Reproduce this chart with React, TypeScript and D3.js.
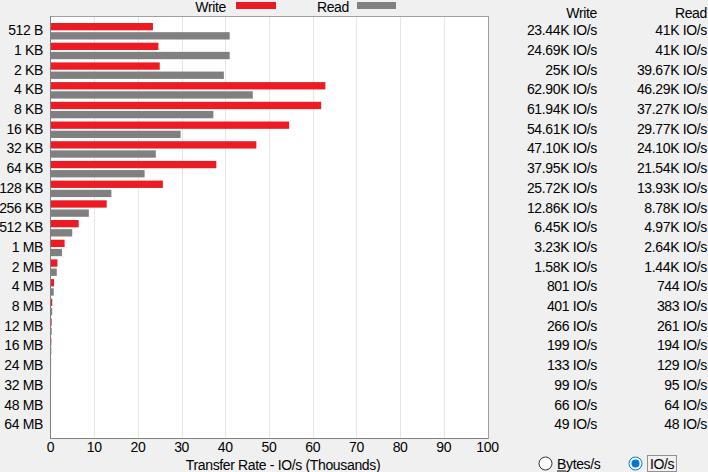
import React from "react";
import * as d3 from "d3";

const categories = ["512 B","1 KB","2 KB","4 KB","8 KB","16 KB","32 KB","64 KB","128 KB","256 KB","512 KB","1 MB","2 MB","4 MB","8 MB","12 MB","16 MB","24 MB","32 MB","48 MB","64 MB"];
const writeValues = [23.44,24.69,25,62.90,61.94,54.61,47.10,37.95,25.72,12.86,6.45,3.23,1.58,0.801,0.401,0.266,0.199,0.133,0.099,0.066,0.049];
const readValues = [41,41,39.67,46.29,37.27,29.77,24.10,21.54,13.93,8.78,4.97,2.64,1.44,0.744,0.383,0.261,0.194,0.129,0.095,0.064,0.048];
const writeLabels = ["23.44K IO/s","24.69K IO/s","25K IO/s","62.90K IO/s","61.94K IO/s","54.61K IO/s","47.10K IO/s","37.95K IO/s","25.72K IO/s","12.86K IO/s","6.45K IO/s","3.23K IO/s","1.58K IO/s","801 IO/s","401 IO/s","266 IO/s","199 IO/s","133 IO/s","99 IO/s","66 IO/s","49 IO/s"];
const readLabels = ["41K IO/s","41K IO/s","39.67K IO/s","46.29K IO/s","37.27K IO/s","29.77K IO/s","24.10K IO/s","21.54K IO/s","13.93K IO/s","8.78K IO/s","4.97K IO/s","2.64K IO/s","1.44K IO/s","744 IO/s","383 IO/s","261 IO/s","194 IO/s","129 IO/s","95 IO/s","64 IO/s","48 IO/s"];
const xTicks = [0,10,20,30,40,50,60,70,80,90,100];
const series = ["Write","Read"];

const RED = "#ed1c24";
const GRAY = "#808080";
const FONT = "'Liberation Sans', Arial, sans-serif";

export default function App() {
  const W = 708, H = 472;
  const plotL = 50, plotR = 488, plotT = 16, plotB = 438;
  const x = d3.scaleLinear().domain([0, 100]).range([50.5, 487.5]);
  const y = d3.scaleBand<string>().domain(categories).range([21, 21 + 19.7 * categories.length]).padding(0);
  const inner = d3.scaleBand<string>().domain(series).range([2, 18.5]).paddingInner(0.2);
  const colors = [RED, GRAY];
  const vals = [writeValues, readValues];
  const ts = { fontSize: 14, letterSpacing: "-0.35px" } as const;

  return (
    <svg width={W} height={H} style={{ position: "absolute", left: 0, top: 0, background: "#f0f0f0", fontFamily: FONT }}>
      <rect x={0} y={0} width={W} height={H} fill="#f0f0f0" />
      {/* legend */}
      <text x={226} y={12} textAnchor="end" {...ts} fill="#000">Write</text>
      <rect x={236} y={2} width={40} height={7} fill={RED} />
      <text x={349} y={12} textAnchor="end" {...ts} fill="#000">Read</text>
      <rect x={357} y={2} width={39} height={7} fill={GRAY} />
      {/* plot */}
      <rect x={plotL} y={plotT} width={plotR - plotL} height={plotB - plotT} fill="#fff" stroke="#a0a0a0" strokeWidth={1} shapeRendering="crispEdges" />
      {xTicks.slice(1, -1).map((t) => (
        <line key={t} x1={Math.round(x(t)) + 0.5} x2={Math.round(x(t)) + 0.5} y1={plotT + 1} y2={plotB} stroke="#e6e6e6" strokeWidth={1} />
      ))}
      {categories.map((c, i) => (
        <g key={c}>
          {vals.map((v, s) => (
            <rect key={s} x={x(0)} y={(y(c) as number) + (inner(series[s]) as number)} width={Math.max(0, x(v[i]) - x(0))} height={inner.bandwidth()} fill={colors[s]} />
          ))}
          <text x={43} y={(y(c) as number) + y.bandwidth() / 2 - 0.5} dy="0.35em" textAnchor="end" {...ts} fill="#000">{c}</text>
          <text x={597} y={(y(c) as number) + y.bandwidth() / 2 - 0.5} dy="0.35em" textAnchor="end" {...ts} fill="#000">{writeLabels[i]}</text>
          <text x={707} y={(y(c) as number) + y.bandwidth() / 2 - 0.5} dy="0.35em" textAnchor="end" {...ts} fill="#000">{readLabels[i]}</text>
        </g>
      ))}
      <line x1={plotL + 0.5} x2={plotL + 0.5} y1={plotT} y2={plotB} stroke="#808080" />
      <line x1={plotL} x2={plotR} y1={plotB + 0.5} y2={plotB + 0.5} stroke="#808080" />
      {xTicks.map((t) => (
        <text key={t} x={x(t)} y={452} textAnchor="middle" {...ts} fill="#000">{t}</text>
      ))}
      <text x={(plotL + plotR) / 2 + 14} y={470} textAnchor="middle" {...ts} fill="#000">Transfer Rate - IO/s (Thousands)</text>
      {/* table headers */}
      <text x={597} y={18} textAnchor="end" {...ts} fill="#000">Write</text>
      <text x={707} y={18} textAnchor="end" {...ts} fill="#000">Read</text>
      {/* radio buttons */}
      <circle cx={545.5} cy={463.5} r={6.5} fill="#fff" stroke="#333" strokeWidth={1} />
      <text x={557} y={469} {...ts} fill="#000">Bytes/s</text>
      <line x1={557} x2={566} y1={471} y2={471} stroke="#000" strokeWidth={1} />
      <circle cx={635.5} cy={463.5} r={6.5} fill="#fff" stroke="#0078d7" strokeWidth={1} />
      <circle cx={635.5} cy={463.5} r={4} fill="#0078d7" />
      <rect x={647.5} y={455.5} width={29} height={16} fill="none" stroke="#333" strokeDasharray="1,1" />
      <text x={650} y={469} {...ts} fill="#000">IO/s</text>
    </svg>
  );
}
